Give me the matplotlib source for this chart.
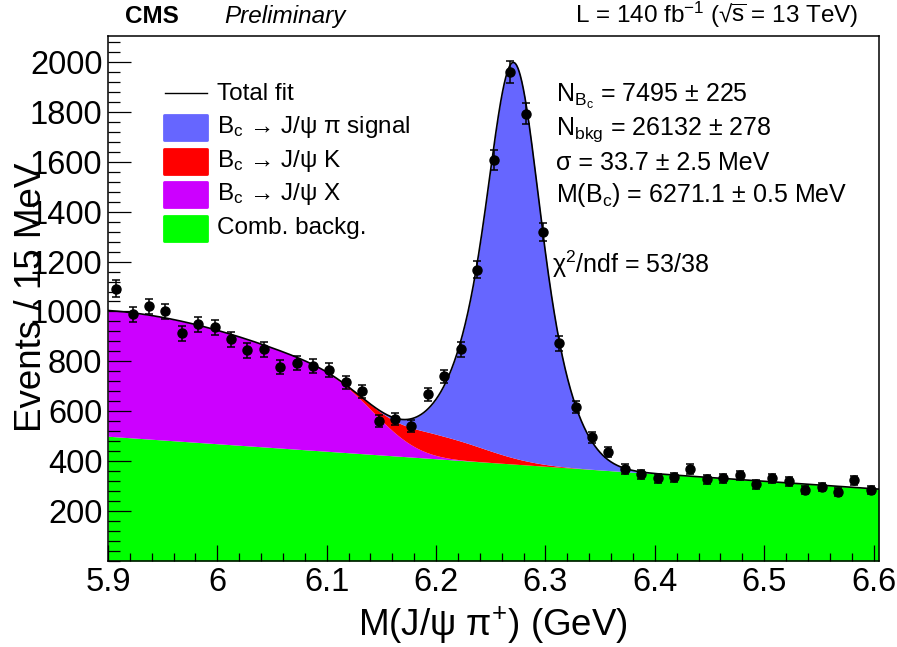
import math
import matplotlib
matplotlib.use("Agg")
import matplotlib.pyplot as plt
import numpy as np
from matplotlib.patches import Rectangle
from matplotlib.lines import Line2D
from matplotlib.ticker import MultipleLocator

plt.rcParams['font.family'] = ['Liberation Sans', 'DejaVu Sans']
plt.rcParams['mathtext.fontset'] = 'custom'
plt.rcParams['mathtext.rm'] = 'Liberation Sans'
plt.rcParams['mathtext.it'] = 'Liberation Sans:italic'
plt.rcParams['mathtext.bf'] = 'Liberation Sans:bold'
plt.rcParams['mathtext.default'] = 'regular'

# 47 bins of 15 MeV
mass_lo, mass_hi, n_bins = 5.9, 6.605, 47
counts = [1092, 988, 1020, 1000, 912, 948, 936, 888, 844, 848,
          776, 792, 780, 764, 716, 680, 560, 568, 540, 668,
          740, 848, 1168, 1608, 1960, 1792, 1320, 872, 616, 496,
          436, 368, 348, 332, 336, 368, 328, 332, 344, 308,
          332, 320, 284, 296, 276, 324, 284]

# fit components (events / 15 MeV)
comb_ends = [500.0, 288.0]                 # linear comb. background at mass_lo, mass_hi
xmass_pars = [504.0, 0.22, 6.152, 0.032]   # height, falloff width, edge, edge smearing
kpi_pars = [85.0, 6.20, 0.035, 0.045]      # height, mean, sigma left, sigma right
sig_pars = [6.2711, 700.0, 0.019, 885.0, 0.037, 0.035]  # mean, core h, core sigma, wide h, wide sigma L/R

x_ticks = [5.9, 6.0, 6.1, 6.2, 6.3, 6.4, 6.5, 6.6]
x_tick_labels = ['5.9', '6', '6.1', '6.2', '6.3', '6.4', '6.5', '6.6']
y_ticks = [200, 400, 600, 800, 1000, 1200, 1400, 1600, 1800, 2000]

legend_labels = ['Total fit', r'$B_c$ → J/ψ π signal', r'$B_c$ → J/ψ K',
                 r'$B_c$ → J/ψ X', 'Comb. backg.']
fit_results = [r'$N_{B_c}$ = 7495 ± 225', r'$N_{bkg}$ = 26132 ± 278',
               'σ = 33.7 ± 2.5 MeV', r'M($B_c$) = 6271.1 ± 0.5 MeV']
chi2_text = r'χ$^2$/ndf = 53/38'

c_sig, c_k, c_x, c_comb = '#6666ff', '#ff0000', '#cc00ff', '#00ff00'

W, H = 897, 647
fig = plt.figure(figsize=(W / 100, H / 100), dpi=100)
ax = fig.add_axes([108 / W, 1 - 561 / H, (879 - 108) / W, (561 - 36) / H])

edges = np.linspace(mass_lo, mass_hi, n_bins + 1)
centers = 0.5 * (edges[:-1] + edges[1:])
counts = np.array(counts, dtype=float)

m = np.linspace(mass_lo, mass_hi, 2000)
erfc = np.vectorize(math.erfc)

comb = comb_ends[0] + (comb_ends[1] - comb_ends[0]) * (m - mass_lo) / (mass_hi - mass_lo)

h, w, edge, smear = xmass_pars
xmass = h * np.exp(-0.5 * ((m - mass_lo) / w) ** 2) * 0.5 * erfc((m - edge) / (np.sqrt(2) * smear))

h, mu, sl, sr = kpi_pars
kpi = h * np.exp(-0.5 * ((m - mu) / np.where(m < mu, sl, sr)) ** 2)

mu, h1, s1, h2, s2l, s2r = sig_pars
sig = h1 * np.exp(-0.5 * ((m - mu) / s1) ** 2) \
    + h2 * np.exp(-0.5 * ((m - mu) / np.where(m < mu, s2l, s2r)) ** 2)

lvl1 = comb
lvl2 = lvl1 + xmass
lvl3 = lvl2 + kpi
total = lvl3 + sig

ax.fill_between(m, 0, lvl1, color=c_comb, lw=0)
ax.fill_between(m, lvl1, lvl2, color=c_x, lw=0)
ax.fill_between(m, lvl2, lvl3, color=c_k, lw=0)
ax.fill_between(m, lvl3, total, color=c_sig, lw=0)
ax.plot(m, total, color='black', lw=1.2)

ax.errorbar(centers, counts, yerr=np.sqrt(counts), fmt='o', color='black',
            ms=6.5, elinewidth=1.1, capsize=3, capthick=1.1, zorder=5)

ax.set_xlim(mass_lo, mass_hi)
ax.set_ylim(0, 2104)
ax.set_xticks(x_ticks)
ax.set_xticklabels(x_tick_labels)
ax.xaxis.set_minor_locator(MultipleLocator(0.02))
ax.set_yticks(y_ticks)
ax.yaxis.set_minor_locator(MultipleLocator(40))
ax.tick_params(which='both', direction='in', top=False, right=False, width=0.9)
ax.tick_params(axis='x', which='major', length=11.5, labelsize=23.5, pad=4)
ax.tick_params(axis='x', which='minor', length=5.8)
ax.tick_params(axis='y', which='major', length=16.5, labelsize=23.5, pad=4)
ax.tick_params(axis='y', which='minor', length=8.3)
for s in ax.spines.values():
    s.set_linewidth(1.1)


def fx(x):
    return x / W


def fy(y):
    return 1 - y / H


fig.text(fx(493), fy(625), r'M(J/ψ π$^{+}$) (GeV)', fontsize=26.5, ha='center', va='center')
fig.text(fx(32), fy(297), 'Events / 15 MeV', fontsize=26.5, ha='center', va='center',
         rotation=90)

# header
fig.text(fx(125), fy(23), 'CMS', fontsize=17.5, fontweight='bold', va='baseline')
fig.text(fx(224), fy(23), 'Preliminary', fontsize=17.5, fontstyle='italic', va='baseline')
fig.text(fx(858), fy(23), r'L = 140 fb$^{-1}$ (√$\overline{s}$ = 13 TeV)', fontsize=17.5,
         ha='right', va='baseline')

# legend
rows = [100, 133, 167, 200, 234]
fig.add_artist(Line2D([fx(165), fx(207)], [fy(93), fy(93)], color='black', lw=1.0,
                      transform=fig.transFigure))
for yb, col in zip(rows[1:], [c_sig, c_k, c_x, c_comb]):
    fig.add_artist(Rectangle((fx(164), fy(yb + 7)), (207 - 164) / W, 25 / H,
                             transform=fig.transFigure, facecolor=col, edgecolor=col,
                             lw=2, joinstyle='round'))
for yb, lab in zip(rows, legend_labels):
    fig.text(fx(217), fy(yb), lab, fontsize=17.5, va='baseline')

# fit results
for yb, lab in zip([102, 135, 170, 202], fit_results):
    fig.text(fx(556), fy(yb), lab, fontsize=18, va='baseline')
fig.text(fx(552), fy(273), chi2_text, fontsize=18, va='baseline')

fig.savefig('out.png', dpi=100)
